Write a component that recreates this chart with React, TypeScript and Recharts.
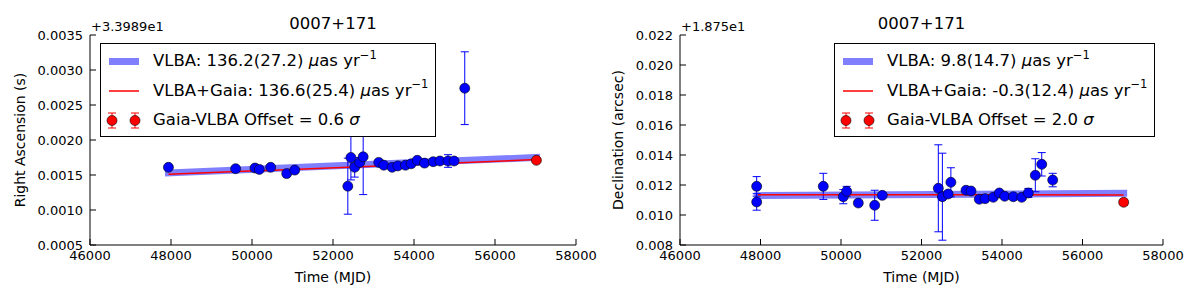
import React from 'react';
import { ComposedChart, Scatter, Line, XAxis, YAxis, ErrorBar, Legend, Label } from 'recharts';

const FONT = 'DejaVu Sans';

const mjdTicks = [46000, 48000, 50000, 52000, 54000, 56000, 58000];
const raTicks = [0.0005, 0.001, 0.0015, 0.002, 0.0025, 0.003, 0.0035];
const decTicks = [0.008, 0.01, 0.012, 0.014, 0.016, 0.018, 0.02, 0.022];

// Right ascension, offset +33.989 s
const raMjd = [47937, 49596, 50075, 50181, 50461, 50857, 51055, 52366, 52442, 52536, 52660, 52745, 53130, 53254, 53460, 53600, 53790, 53930, 54080, 54260, 54475, 54640, 54840, 54990, 55253];
const raVal = [0.00161, 0.00159, 0.0016, 0.00158, 0.00161, 0.00152, 0.00157, 0.00134, 0.00175, 0.00161, 0.00168, 0.00176, 0.00168, 0.00164, 0.00161, 0.00163, 0.00164, 0.00166, 0.00171, 0.00167, 0.00169, 0.0017, 0.0017, 0.0017, 0.00274];
const raErr = [0.00002, 0.00002, 0.00002, 0.00002, 0.00002, 0.00002, 0.00002, 0.0004, 0.00032, 0.00014, 0.00003, 0.00054, 0.00002, 0.00002, 0.00002, 0.00002, 0.00002, 0.00002, 0.00002, 0.00002, 0.00002, 0.00002, 0.00009, 0.00002, 0.00052];
const raGaiaMjd = [57023];
const raGaiaVal = [0.00171];
const raGaiaErr = [0.00001];
const fitMjd = [47937, 57023];
const raVlbaFit = [0.00153, 0.00175];
const raJointFit = [0.00151, 0.00172];

// Declination, offset +18.75 arcsec
const decMjd = [47905, 47905, 49560, 50057, 50141, 50430, 50837, 51026, 52418, 52519, 52663, 52730, 53106, 53230, 53436, 53578, 53784, 53933, 54067, 54281, 54490, 54654, 54828, 54987, 55260];
const decVal = [0.01191, 0.01087, 0.01191, 0.01122, 0.01158, 0.0108, 0.01065, 0.01131, 0.01178, 0.01122, 0.0114, 0.01218, 0.01165, 0.0116, 0.01105, 0.01109, 0.01118, 0.01147, 0.01125, 0.01122, 0.01118, 0.01147, 0.01265, 0.01338, 0.01233];
const decErr = [0.00065, 0.00055, 0.00087, 0.00047, 0.00033, 0.0001, 0.001, 0.0001, 0.0029, 0.0029, 0.0002, 0.00097, 0.0001, 0.0001, 0.0001, 0.0001, 0.0001, 0.0001, 0.0001, 0.0001, 0.0001, 0.0003, 0.0011, 0.00078, 0.00045];
const decGaiaMjd = [57023];
const decGaiaVal = [0.01085];
const decGaiaErr = [0.0002];
const decVlbaFit = [0.01129, 0.01145];
const decJointFit = [0.01135, 0.01134];

const toPts = (xs: number[], ys: number[], es?: number[]) =>
  xs.map((x, i) => ({ x, y: ys[i], err: es ? es[i] : 0 }));

const dot = (color: string) => (props: any) => (
  <circle cx={props.cx} cy={props.cy} r={5} fill={color} stroke="#000" strokeWidth={0.6} />
);

const LegendBox = ({ width, vlba, joint, offset }: { width: number; vlba: string; joint: string; offset: string }) => {
  const row = (cy: number): React.CSSProperties => ({
    position: 'absolute', left: 52, top: cy - 11, height: 22, display: 'flex', alignItems: 'center', whiteSpace: 'nowrap',
  });
  const sup: React.CSSProperties = { fontSize: '0.7em', position: 'relative', top: '-0.5em' };
  return (
    <div style={{ position: 'relative', width, height: 94, boxSizing: 'border-box', border: '1px solid #000', background: '#fff', fontFamily: FONT, fontSize: 16.5, color: '#000', lineHeight: 1 }}>
      <svg width={48} height={92} style={{ position: 'absolute', left: 0, top: 0 }}>
        <line x1={8} x2={38} y1={17.5} y2={17.5} stroke="#0000ff" strokeOpacity={0.5} strokeWidth={7} />
        <line x1={8} x2={38} y1={47} y2={47} stroke="#ff0000" strokeWidth={1.5} />
        {[11, 34].map((cx) => (
          <g key={cx}>
            <line x1={cx} x2={cx} y1={69} y2={84} stroke="#ff0000" strokeWidth={1} />
            <line x1={cx - 4} x2={cx + 4} y1={69} y2={69} stroke="#ff0000" strokeWidth={1} />
            <line x1={cx - 4} x2={cx + 4} y1={84} y2={84} stroke="#ff0000" strokeWidth={1} />
            <circle cx={cx} cy={76.5} r={5} fill="#ff0000" stroke="#000" strokeWidth={0.6} />
          </g>
        ))}
      </svg>
      <div style={row(17.5)}>VLBA: {vlba}&nbsp;<i>μ</i>as yr<span style={sup}>−1</span></div>
      <div style={row(47)}>VLBA+Gaia: {joint}&nbsp;<i>μ</i>as yr<span style={sup}>−1</span></div>
      <div style={row(76)}>Gaia-VLBA Offset = {offset}&nbsp;<i>σ</i></div>
    </div>
  );
};

type PanelProps = {
  title: string;
  offsetText: string;
  yLabel: string;
  yLabelX: number;
  mjd: number[];
  val: number[];
  err: number[];
  gaiaMjd: number[];
  gaiaVal: number[];
  gaiaErr: number[];
  vlbaFit: number[];
  jointFit: number[];
  yDomain: [number, number];
  yTicks: number[];
  yDigits: number;
  left: number;
  right: number;
  legendLeft: number;
  legendWidth: number;
  vlbaText: string;
  jointText: string;
  offsetSigma: string;
};

const tickStyle = { fill: '#000', fontSize: 13, fontFamily: FONT };
const labelStyle = { fill: '#000', fontSize: 14, fontFamily: FONT };

const Panel = (p: PanelProps) => {
  const pts = toPts(p.mjd, p.val, p.err);
  const gaia = toPts(p.gaiaMjd, p.gaiaVal, p.gaiaErr);
  const vlbaLine = toPts(fitMjd, p.vlbaFit);
  const jointLine = toPts(fitMjd, p.jointFit);
  const midX = p.left + (600 - p.left - p.right) / 2;
  return (
    <ComposedChart width={600} height={300} margin={{ top: 35, right: p.right, bottom: 0, left: 0 }}>
      <XAxis dataKey="x" type="number" domain={[46000, 58000]} ticks={mjdTicks} interval={0} allowDataOverflow
        height={55} tickSize={-6} tickMargin={12} tick={tickStyle}
        tickLine={{ stroke: '#000' }} axisLine={{ stroke: '#000' }}>
        <Label value="Time (MJD)" position="insideBottom" offset={18} style={labelStyle} />
      </XAxis>
      <XAxis xAxisId="top" orientation="top" dataKey="x" type="number" domain={[46000, 58000]} ticks={mjdTicks} interval={0} allowDataOverflow
        height={0} tickSize={-6} tickFormatter={() => ''} tickLine={{ stroke: '#000' }} axisLine={{ stroke: '#000' }} />
      <YAxis dataKey="y" type="number" domain={p.yDomain} ticks={p.yTicks} interval={0} allowDataOverflow
        width={p.left} tickSize={-6} tickMargin={13} tick={tickStyle}
        tickFormatter={(v: number) => v.toFixed(p.yDigits)}
        tickLine={{ stroke: '#000' }} axisLine={{ stroke: '#000' }}>
        <Label value={p.yLabel} angle={-90} position="insideLeft" offset={p.yLabelX} style={{ ...labelStyle, textAnchor: 'middle' }} />
      </YAxis>
      <YAxis yAxisId="right" orientation="right" dataKey="y" type="number" domain={p.yDomain} ticks={p.yTicks} interval={0} allowDataOverflow
        width={0} tickSize={-6} tickFormatter={() => ''} tickLine={{ stroke: '#000' }} axisLine={{ stroke: '#000' }} />
      <Line data={vlbaLine} dataKey="y" stroke="#0000ff" strokeOpacity={0.5} strokeWidth={7} strokeLinecap="square"
        dot={false} activeDot={false} isAnimationActive={false} legendType="none" />
      <Scatter data={pts} dataKey="y" shape={dot('#0000ff')} isAnimationActive={false} legendType="none">
        <ErrorBar dataKey="err" direction="y" width={4} stroke="#0000ff" strokeWidth={1} />
      </Scatter>
      <Line data={jointLine} dataKey="y" stroke="#ff0000" strokeWidth={1.5}
        dot={false} activeDot={false} isAnimationActive={false} legendType="none" />
      <Scatter data={gaia} dataKey="y" shape={dot('#ff0000')} isAnimationActive={false} legendType="none">
        <ErrorBar dataKey="err" direction="y" width={4} stroke="#ff0000" strokeWidth={1} />
      </Scatter>
      <text x={p.left + 1} y={31} fontSize={13} fontFamily={FONT} fill="#000">{p.offsetText}</text>
      <text x={midX} y={29} fontSize={16.5} fontFamily={FONT} fill="#000" textAnchor="middle">{p.title}</text>
      <Legend layout="horizontal" verticalAlign="middle" align="center"
        wrapperStyle={{ left: p.legendLeft, top: 43, width: p.legendWidth, height: 94 }}
        content={() => <LegendBox width={p.legendWidth} vlba={p.vlbaText} joint={p.jointText} offset={p.offsetSigma} />} />
    </ComposedChart>
  );
};

export default function App() {
  return (
    <div style={{ position: 'absolute', left: 0, top: 0, width: 1200, height: 300, display: 'flex', background: '#fff' }}>
      <Panel title="0007+171" offsetText="+3.3989e1" yLabel="Right Ascension (s)" yLabelX={20}
        mjd={raMjd} val={raVal} err={raErr} gaiaMjd={raGaiaMjd} gaiaVal={raGaiaVal} gaiaErr={raGaiaErr}
        vlbaFit={raVlbaFit} jointFit={raJointFit} yDomain={[0.0005, 0.0035]} yTicks={raTicks} yDigits={4}
        left={90} right={24} legendLeft={100} legendWidth={336}
        vlbaText="136.2(27.2)" jointText="136.6(25.4)" offsetSigma="0.6" />
      <Panel title="0007+171" offsetText="+1.875e1" yLabel="Declination (arcsec)" yLabelX={18}
        mjd={decMjd} val={decVal} err={decErr} gaiaMjd={decGaiaMjd} gaiaVal={decGaiaVal} gaiaErr={decGaiaErr}
        vlbaFit={decVlbaFit} jointFit={decJointFit} yDomain={[0.008, 0.022]} yTicks={decTicks} yDigits={3}
        left={80} right={37} legendLeft={234} legendWidth={321}
        vlbaText="9.8(14.7)" jointText="-0.3(12.4)" offsetSigma="2.0" />
    </div>
  );
}
